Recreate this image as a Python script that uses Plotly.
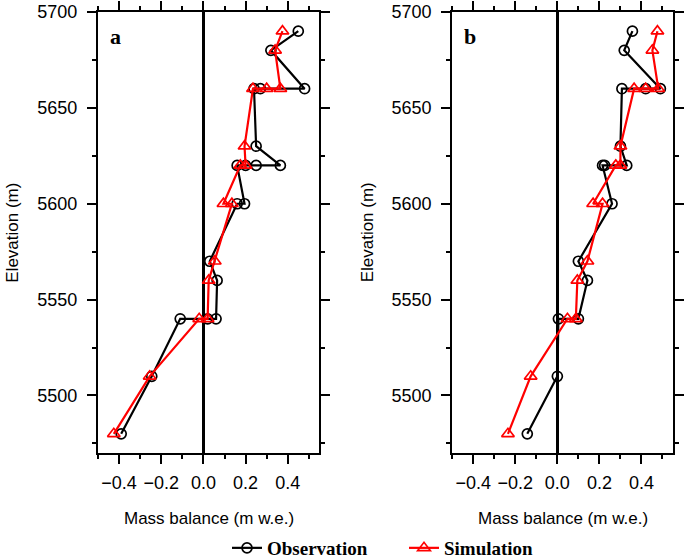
import plotly.graph_objects as go

# ---- data ----
# Panel a
a_obs_elev = [5690, 5680, 5660, 5660, 5660, 5630, 5620, 5620, 5620, 5620, 5600, 5600, 5570, 5560, 5540, 5540, 5540, 5510, 5480]
a_obs_mb   = [0.45, 0.32, 0.48, 0.27, 0.24, 0.25, 0.365, 0.25, 0.20, 0.16, 0.195, 0.16, 0.03, 0.065, 0.06, 0.02, -0.11, -0.245, -0.39]
a_sim_elev = [5690, 5680, 5660, 5660, 5660, 5630, 5620, 5620, 5600, 5600, 5570, 5560, 5540, 5540, 5510, 5480]
a_sim_mb   = [0.375, 0.34, 0.365, 0.30, 0.235, 0.195, 0.20, 0.175, 0.095, 0.135, 0.054, 0.025, 0.02, -0.02, -0.255, -0.425]
# Panel b
b_obs_elev = [5690, 5680, 5660, 5660, 5660, 5630, 5620, 5620, 5620, 5600, 5570, 5560, 5540, 5540, 5510, 5480]
b_obs_mb   = [0.357, 0.318, 0.49, 0.42, 0.307, 0.30, 0.33, 0.225, 0.215, 0.26, 0.10, 0.143, 0.10, 0.005, 0.0, -0.143]
b_sim_elev = [5690, 5680, 5660, 5660, 5660, 5630, 5620, 5620, 5600, 5600, 5570, 5560, 5540, 5540, 5510, 5480]
b_sim_mb   = [0.476, 0.452, 0.48, 0.42, 0.365, 0.30, 0.30, 0.278, 0.17, 0.215, 0.143, 0.095, 0.088, 0.048, -0.127, -0.235]

panel_labels = ["a", "b"]
series_names = ["Observation", "Simulation"]
x_title = "Mass balance (m w.e.)"
y_title = "Elevation (m)"

W, H = 685, 558
L, R, T, B = 97.7, 673.3, 12.0, 453.3   # plot-area pixel edges
PW, PH = R - L, B - T

def px(xp):   # pixel x -> paper fraction
    return (xp - L) / PW

def py(yp):   # pixel y -> paper fraction
    return (B - yp) / PH

xa_dom = [0.0, px(319.3)]
xb_dom = [px(452.3), 1.0]

SANS = "Liberation Sans"
SERIF = "Liberation Serif"

fig = go.Figure()

def add(x, y, xa, ya, name, kind, showleg, legend):
    if kind == "obs":
        line = dict(color="black", width=2.2)
        marker = dict(symbol="circle-open", size=10, color="black", line=dict(width=1.7))
    else:
        line = dict(color="#ff0000", width=2.2)
        marker = dict(symbol="triangle-up-open", size=11, color="#ff0000", line=dict(width=1.7))
    fig.add_trace(go.Scatter(x=x, y=y, xaxis=xa, yaxis=ya, mode="lines+markers",
                             name=name, line=line, marker=marker,
                             showlegend=showleg, legend=legend))

add(a_obs_mb, a_obs_elev, "x", "y", series_names[0], "obs", True, "legend")
add(a_sim_mb, a_sim_elev, "x", "y", series_names[1], "sim", True, "legend2")
add(b_obs_mb, b_obs_elev, "x2", "y2", series_names[0], "obs", False, "legend")
add(b_sim_mb, b_sim_elev, "x2", "y2", series_names[1], "sim", False, "legend2")

xcommon = dict(range=[-0.5, 0.55], tickmode="array", tickvals=[-0.4, -0.2, 0.0, 0.2, 0.4],
               ticktext=["\u22120.4", "\u22120.2", "0.0", "0.2", "0.4"],
               ticks="outside", ticklen=9, tickwidth=1.6, tickcolor="black",
               minor=dict(tickmode="array", tickvals=[-0.5, -0.3, -0.1, 0.1, 0.3, 0.5],
                          ticks="outside", ticklen=4, tickwidth=1.6, tickcolor="black"),
               showline=True, linewidth=2.2, linecolor="black", mirror="ticks",
               showgrid=False, zeroline=True, zerolinecolor="black", zerolinewidth=2.5,
               tickfont=dict(family=SANS, size=18, color="black"),
               ticklabelstandoff=3, ticklabeloverflow="allow",
               automargin=False, fixedrange=True)
ycommon = dict(range=[5470, 5700], tickmode="array", tickvals=[5500, 5550, 5600, 5650, 5700],
               ticks="outside", ticklen=9, tickwidth=1.6, tickcolor="black",
               minor=dict(tickmode="array", tickvals=[5475, 5525, 5575, 5625, 5675],
                          ticks="outside", ticklen=4, tickwidth=1.6, tickcolor="black"),
               showline=True, linewidth=2.2, linecolor="black", mirror="ticks",
               showgrid=False, zeroline=False,
               tickfont=dict(family=SANS, size=18, color="black"),
               ticklabelstandoff=6, ticklabeloverflow="allow",
               automargin=False, fixedrange=True)

legfont = dict(family=SERIF, size=19, color="black", weight="bold")
fig.update_layout(
    width=W, height=H, margin=dict(l=L, r=W - R, t=T, b=H - B, autoexpand=False),
    paper_bgcolor="white", plot_bgcolor="white",
    xaxis=dict(domain=xa_dom, anchor="y", **xcommon),
    yaxis=dict(domain=[0, 1], anchor="x", **ycommon),
    xaxis2=dict(domain=xb_dom, anchor="y2", **xcommon),
    yaxis2=dict(domain=[0, 1], anchor="x2", **ycommon),
    legend=dict(orientation="h", xref="container", yref="container",
                x=227 / W, xanchor="left", y=(H - 548) / H, yanchor="middle",
                font=legfont, bgcolor="rgba(0,0,0,0)"),
    legend2=dict(orientation="h", xref="container", yref="container",
                 x=404 / W, xanchor="left", y=(H - 548) / H, yanchor="middle",
                 font=legfont, bgcolor="rgba(0,0,0,0)"),
    showlegend=True,
)

annots = []
for lab, cx in zip(panel_labels, [115, 470]):
    annots.append(dict(text=lab, x=px(cx), y=py(37), xref="paper", yref="paper",
                       showarrow=False, xanchor="center", yanchor="middle",
                       font=dict(family=SERIF, size=22, color="black", weight="bold")))
for cx in [(97.7 + 319.3) / 2, (452.3 + 673.3) / 2]:
    annots.append(dict(text=x_title, x=px(cx), y=py(519), xref="paper", yref="paper",
                       showarrow=False, xanchor="center", yanchor="middle",
                       font=dict(family=SANS, size=17, color="black")))
for cx in [12, 367]:
    annots.append(dict(text=y_title, x=px(cx), y=py(232.5), xref="paper", yref="paper",
                       showarrow=False, xanchor="center", yanchor="middle", textangle=-90,
                       font=dict(family=SANS, size=17, color="black")))
fig.update_layout(annotations=annots)

# remove the browser's default 8 px page margin so the figure sits at (0, 0)
fig.write_html("out.html", config={"displayModeBar": False},
               post_script="document.body.style.margin='0px';document.body.style.padding='0px';")
